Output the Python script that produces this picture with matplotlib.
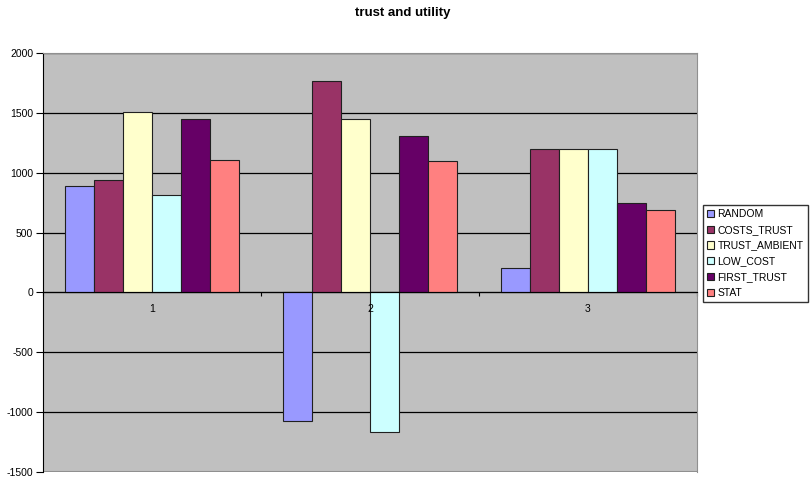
import numpy as np
import matplotlib.pyplot as plt

plt.rcParams['font.family'] = ['Liberation Sans', 'DejaVu Sans']
plt.rcParams['axes.unicode_minus'] = False

categories = ['1', '2', '3']
series_names = ['RANDOM', 'COSTS_TRUST', 'TRUST_AMBIENT', 'LOW_COST', 'FIRST_TRUST', 'STAT']
random_vals = [890, -1070, 200]
costs_trust = [935, 1770, 1200]
trust_ambient = [1510, 1445, 1200]
low_cost = [810, -1170, 1200]
first_trust = [1450, 1310, 750]
stat_vals = [1105, 1100, 690]
colors = ['#9999FF', '#993366', '#FFFFCC', '#CCFFFF', '#660066', '#FF8080']

series = [random_vals, costs_trust, trust_ambient, low_cost, first_trust, stat_vals]

fig = plt.figure(figsize=(8.1, 4.8), dpi=100)
ax = fig.add_axes([43 / 810, 8 / 480, 654 / 810, 419 / 480])
ax.set_facecolor('#C0C0C0')

x = np.arange(1, len(categories) + 1)
width = 0.8 / len(series)
for i, (vals, name, col) in enumerate(zip(series, series_names, colors)):
    offset = (i - (len(series) - 1) / 2) * width
    ax.bar(x + offset, vals, width, color=col, edgecolor='#202020',
           linewidth=0.8, label=name, zorder=3)

ax.set_xlim(0.5, 3.5)
ax.set_ylim(-1500, 2000)
ax.set_yticks(np.arange(-1500, 2001, 500))
ax.yaxis.grid(True, color='#000000', linewidth=0.9, zorder=1)
ax.set_axisbelow(True)

# category axis sits on the zero line
ax.spines['bottom'].set_position(('data', 0))
ax.spines['bottom'].set_color('#000000')
ax.spines['bottom'].set_zorder(4)
ax.set_xticks([0.5, 1.5, 2.5, 3.5])
ax.set_xticklabels([])
ax.tick_params(axis='x', which='major', direction='out', length=3, color='#000000')

# category labels drawn on top of the bars
for xi, cat in zip(x, categories):
    ax.annotate(cat, xy=(xi, 0), xytext=(0, -8), textcoords='offset points',
                ha='center', va='top', fontsize=7.5, zorder=6)

ax.spines['left'].set_color('#000000')
ax.spines['top'].set_color('#909090')
ax.spines['right'].set_color('#909090')
ax.axhline(-1500, color='#909090', linewidth=1.5, zorder=2)
ax.tick_params(axis='y', direction='out', length=5, labelsize=7.5, pad=2)

fig.suptitle('trust and utility', x=0.497, y=0.985, fontsize=9.5, fontweight='bold')

fig.legend(loc='upper left', bbox_to_anchor=(703 / 810, 1 - 205 / 480),
           fontsize=7.5, frameon=True, fancybox=False, edgecolor='#000000',
           handlelength=0.7, handleheight=0.7, handletextpad=0.3,
           labelspacing=0.55, borderpad=0.4, borderaxespad=0)

fig.savefig('out.png', dpi=100)
